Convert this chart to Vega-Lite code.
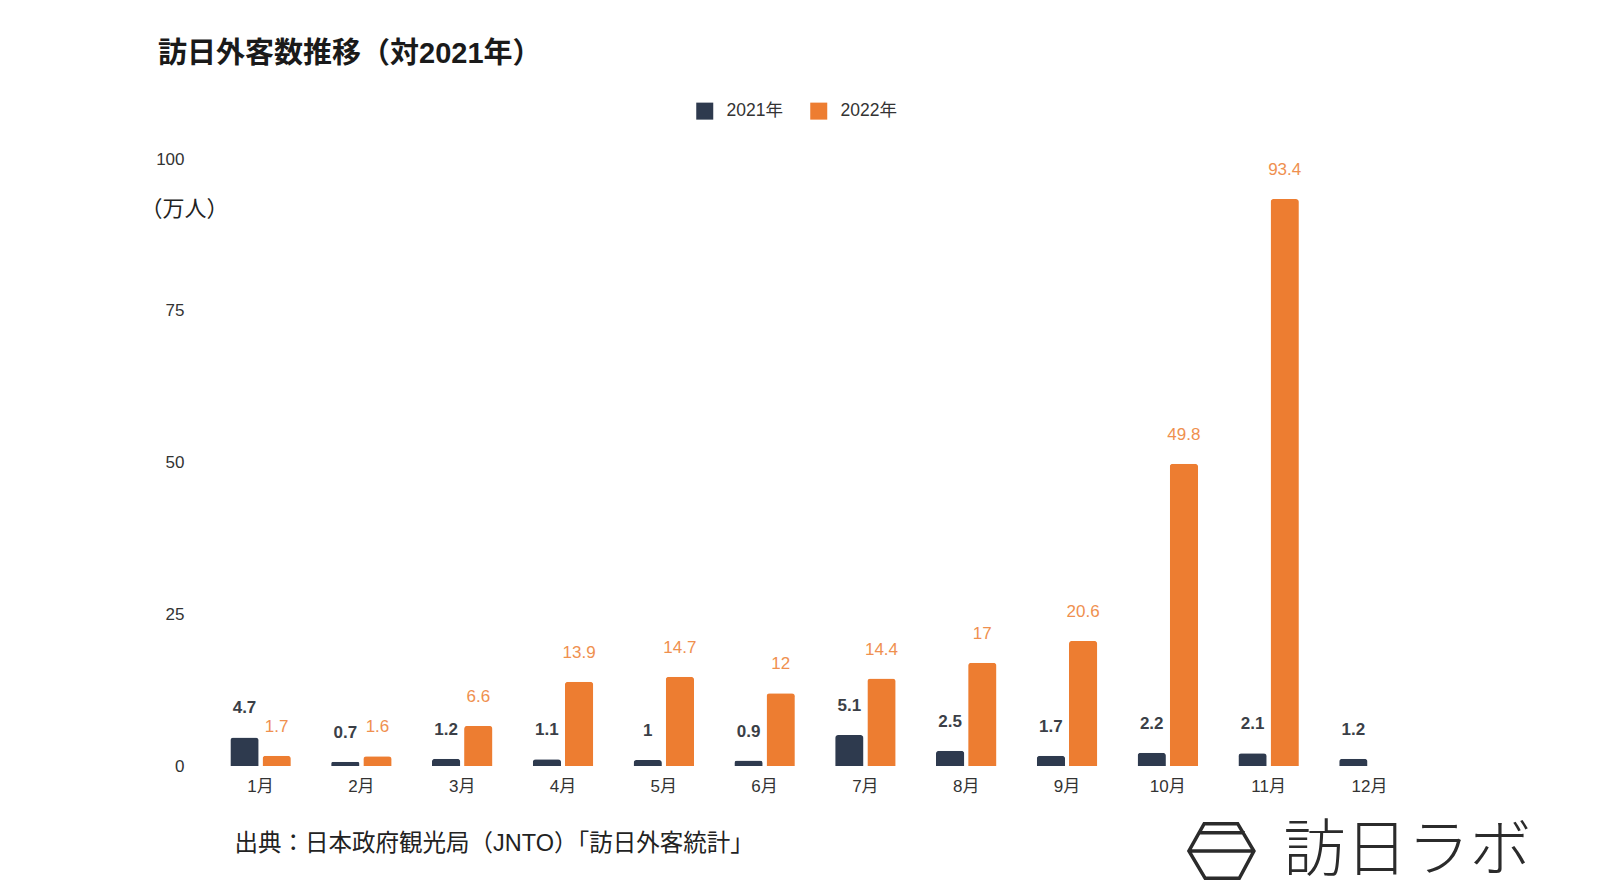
{
  "$schema": "https://vega.github.io/schema/vega-lite/v6.json",
  "width": 1254,
  "height": 607,
  "autosize": "none",
  "padding": {"left": 188, "top": 159, "right": 158, "bottom": 130},
  "background": "#ffffff",
  "title": {
    "text": "訪日外客数推移（対2021年）",
    "anchor": "start",
    "frame": "group",
    "dx": -30,
    "offset": 33,
    "fontSize": 29,
    "fontWeight": "bold",
    "color": "#1a1a1a",
    "font": "Liberation Sans, Noto Sans CJK JP"
  },
  "config": {
    "font": "Liberation Sans, Noto Sans CJK JP",
    "view": {"stroke": null},
    "axis": {"domain": false, "ticks": false, "grid": false, "labelColor": "#333333", "labelFontSize": 17, "titleColor": "#222222", "titleFontWeight": "normal"}
  },
  "data": {
    "values": [
      {"month": "1月", "year": "2021年", "value": 4.7},
      {"month": "2月", "year": "2021年", "value": 0.7},
      {"month": "3月", "year": "2021年", "value": 1.2},
      {"month": "4月", "year": "2021年", "value": 1.1},
      {"month": "5月", "year": "2021年", "value": 1},
      {"month": "6月", "year": "2021年", "value": 0.9},
      {"month": "7月", "year": "2021年", "value": 5.1},
      {"month": "8月", "year": "2021年", "value": 2.5},
      {"month": "9月", "year": "2021年", "value": 1.7},
      {"month": "10月", "year": "2021年", "value": 2.2},
      {"month": "11月", "year": "2021年", "value": 2.1},
      {"month": "12月", "year": "2021年", "value": 1.2},
      {"month": "1月", "year": "2022年", "value": 1.7},
      {"month": "2月", "year": "2022年", "value": 1.6},
      {"month": "3月", "year": "2022年", "value": 6.6},
      {"month": "4月", "year": "2022年", "value": 13.9},
      {"month": "5月", "year": "2022年", "value": 14.7},
      {"month": "6月", "year": "2022年", "value": 12},
      {"month": "7月", "year": "2022年", "value": 14.4},
      {"month": "8月", "year": "2022年", "value": 17},
      {"month": "9月", "year": "2022年", "value": 20.6},
      {"month": "10月", "year": "2022年", "value": 49.8},
      {"month": "11月", "year": "2022年", "value": 93.4}
    ]
  },
  "encoding": {
    "x": {
      "field": "month",
      "type": "nominal",
      "scale": {"domain": ["1月","2月","3月","4月","5月","6月","7月","8月","9月","10月","11月","12月"], "paddingInner": 0.4, "paddingOuter": 0.42},
      "axis": {
        "labelAngle": 0,
        "labelPadding": 12,
        "title": "出典：日本政府観光局（JNTO）「訪日外客統計」",
        "titleFontSize": 23.5,
        "titleAlign": "left",
        "titleBaseline": "middle",
        "titleX": 46,
        "titleY": 77
      }
    },
    "y": {
      "field": "value",
      "type": "quantitative",
      "scale": {"domain": [0, 100], "nice": false},
      "axis": {
        "values": [0, 25, 50, 75, 100],
        "labelPadding": 4,
        "title": "（万人）",
        "titleAngle": 0,
        "titleFontSize": 22,
        "titleAlign": "left",
        "titleBaseline": "middle",
        "titleX": -48,
        "titleY": 49
      }
    }
  },
  "layer": [
    {
      "mark": {"type": "bar", "cornerRadiusTopLeft": 3, "cornerRadiusTopRight": 3},
      "encoding": {
        "xOffset": {"field": "year", "type": "nominal", "scale": {"domain": ["2021年", "2022年"], "paddingInner": 0.12, "paddingOuter": 0}},
        "color": {
          "field": "year",
          "type": "nominal",
          "scale": {"domain": ["2021年", "2022年"], "range": ["#2e3a4e", "#ed7d31"]},
          "legend": {
            "title": null,
            "orient": "none",
            "legendX": 508,
            "legendY": -57,
            "direction": "horizontal",
            "symbolType": "square",
            "symbolSize": 289,
            "symbolStrokeWidth": 0,
            "symbolOpacity": 1,
            "labelFontSize": 17.5,
            "labelColor": "#333333",
            "labelOffset": 13,
            "columnPadding": 27
          }
        }
      }
    },
    {
      "transform": [{"filter": "datum.year === '2021年'"}],
      "mark": {"type": "text", "baseline": "middle", "dy": -29, "fontSize": 17, "fontWeight": "bold", "color": "#3b3f47"},
      "encoding": {
        "xOffset": {"field": "year", "type": "nominal"},
        "text": {"field": "value", "type": "quantitative"}
      }
    },
    {
      "transform": [{"filter": "datum.year === '2022年'"}],
      "mark": {"type": "text", "baseline": "middle", "dy": -29, "fontSize": 17, "color": "#ef904f"},
      "encoding": {
        "xOffset": {"field": "year", "type": "nominal"},
        "text": {"field": "value", "type": "quantitative"}
      }
    },
    {
      "data": {"values": [{"month": "12月", "value": 0, "logo": "訪日ラボ"}]},
      "mark": {"type": "point", "shape": "M-0.53,-0.84 L0.5,-0.84 L1,0 L0.55,0.84 L-0.5,0.84 L-1,0 Z M-0.72,-0.56 L0.72,-0.56 M-1,0 L1,0", "filled": false, "size": 4225, "strokeWidth": 3.5, "color": "#2b2b2b", "opacity": 1, "xOffset": -148, "yOffset": 85},
      "encoding": {}
    },
    {
      "data": {"values": [{"month": "12月", "value": 0, "logo": "訪日ラボ"}]},
      "mark": {"type": "text", "fontSize": 62, "fontWeight": 200, "font": "Noto Sans CJK JP", "color": "#2b2b2b", "baseline": "middle", "align": "center", "dx": 38, "dy": 86},
      "encoding": {"text": {"field": "logo"}}
    }
  ]
}
